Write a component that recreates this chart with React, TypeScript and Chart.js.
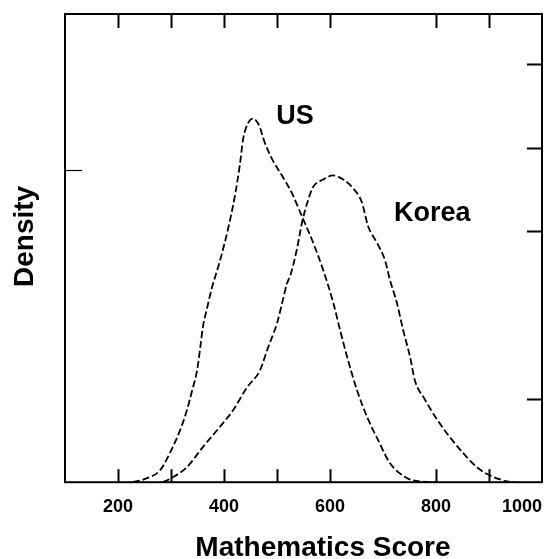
import React, { useEffect, useRef } from "react";
import { Chart, registerables } from "chart.js";

Chart.register(...registerables);

// ---- Data ----
const usScores = [228, 251, 279, 298, 317, 330, 340, 349, 355, 360, 368, 377, 392, 408, 421, 430, 436, 445, 455, 466, 477, 492, 511, 528, 547, 566, 587, 606, 619, 634, 651, 670, 691, 713, 745, 770, 800];
const usDensity = [0, 0.00004, 0.00014, 0.00035, 0.00062, 0.00086, 0.0011, 0.00133, 0.0016, 0.00185, 0.00208, 0.00232, 0.00264, 0.00304, 0.00344, 0.0038, 0.0041, 0.00429, 0.00435, 0.00427, 0.00406, 0.00385, 0.00365, 0.00346, 0.00318, 0.0029, 0.00254, 0.00215, 0.00182, 0.00146, 0.0011, 0.00078, 0.0005, 0.00023, 0.00005, 0.00001, 0];

const koreaScores = [285, 298, 330, 360, 392, 417, 443, 468, 483, 500, 511, 519, 525, 538, 547, 559, 568, 587, 606, 625, 643, 660, 672, 689, 704, 713, 726, 738, 751, 760, 779, 802, 826, 851, 877, 902, 934, 950];
const koreaDensity = [0, 0.00004, 0.00018, 0.00042, 0.00066, 0.00086, 0.00113, 0.00134, 0.00161, 0.0019, 0.00218, 0.00238, 0.00247, 0.0028, 0.0031, 0.00338, 0.00353, 0.00362, 0.00367, 0.00362, 0.00352, 0.00335, 0.00306, 0.00286, 0.00265, 0.00242, 0.00215, 0.00182, 0.0015, 0.00122, 0.00099, 0.00075, 0.00054, 0.00035, 0.00018, 0.00008, 0.00001, 0];

const xMin = 100;
const xMax = 1000;
const xStep = 100;
const xLabelValues = [200, 400, 600, 800, 1000];
const xTickMarks = [200, 300, 400, 500, 600, 800, 900];
const yMin = 0;
const yMax = 0.0056;
const yTickMarksRight = [0.001, 0.003, 0.004, 0.005];
const yTickMarksLeft = [0.00374];

const seriesNames = ["US", "Korea"];
const labelScores = [534, 793];
const labelDensities = [0.00437, 0.00321];

const xTitle = "Mathematics Score";
const yTitle = "Density";

const FONT = '"Liberation Sans", Arial, Helvetica, sans-serif';

const framePlugin = {
  id: "frameAndLabels",
  afterDatasetsDraw(chart: any) {
    const { ctx, chartArea: a, scales } = chart;
    const x = scales.x;
    const y = scales.y;
    ctx.save();
    ctx.setLineDash([]);
    ctx.strokeStyle = "#000";
    ctx.lineWidth = 2;
    ctx.strokeRect(a.left, a.top, a.right - a.left, a.bottom - a.top);
    ctx.beginPath();
    for (const v of xTickMarks) {
      const px = Math.round(x.getPixelForValue(v)) + 0.5;
      ctx.moveTo(px, a.bottom);
      ctx.lineTo(px, a.bottom - 13);
      ctx.moveTo(px, a.top);
      ctx.lineTo(px, a.top + 14);
    }
    for (const v of yTickMarksRight) {
      const py = Math.round(y.getPixelForValue(v)) + 0.5;
      ctx.moveTo(a.right, py);
      ctx.lineTo(a.right - 15, py);
    }
    ctx.stroke();
    ctx.lineWidth = 1.2;
    ctx.beginPath();
    for (const v of yTickMarksLeft) {
      const py = Math.round(y.getPixelForValue(v)) + 0.5;
      ctx.moveTo(a.left, py);
      ctx.lineTo(a.left + 17, py);
    }
    ctx.stroke();

    ctx.fillStyle = "#000";
    ctx.font = `bold 27px ${FONT}`;
    ctx.textAlign = "center";
    ctx.textBaseline = "middle";
    seriesNames.forEach((t, i) => {
      ctx.fillText(t, x.getPixelForValue(labelScores[i]), y.getPixelForValue(labelDensities[i]));
    });
    ctx.restore();
  },
};

export default function App() {
  const canvasRef = useRef<HTMLCanvasElement | null>(null);

  useEffect(() => {
    if (!canvasRef.current) return;
    const lineStyle = {
      borderColor: "#000",
      borderWidth: 1.8,
      borderDash: [7, 3],
      pointRadius: 0,
      fill: false,
      cubicInterpolationMode: "monotone",
    };
    const chart = new Chart(canvasRef.current, {
      type: "line",
      data: {
        datasets: [
          {
            label: seriesNames[0],
            data: usScores.map((s, i) => ({ x: s, y: usDensity[i] })),
            ...lineStyle,
          },
          {
            label: seriesNames[1],
            data: koreaScores.map((s, i) => ({ x: s, y: koreaDensity[i] })),
            ...lineStyle,
          },
        ],
      },
      options: {
        responsive: false,
        animation: false,
        layout: { padding: { top: 14, right: 6, left: 0, bottom: 0 } },
        plugins: { legend: { display: false }, tooltip: { enabled: false } },
        scales: {
          x: {
            type: "linear",
            min: xMin,
            max: xMax,
            grid: { display: false, drawTicks: false },
            border: { display: false },
            ticks: {
              stepSize: xStep,
              autoSkip: false,
              align: "inner",
              padding: 6,
              maxRotation: 0,
              color: "#000",
              font: { family: FONT, size: 18, weight: "bold", lineHeight: 2.133 },
              callback: (v: any) => (xLabelValues.includes(Number(v)) ? String(v) : ""),
            },
            title: {
              display: true,
              text: "     " + xTitle,
              color: "#000",
              font: { family: FONT, size: 28, weight: "bold", lineHeight: 0.8 },
              padding: { top: 4, bottom: 0 },
            },
          },
          y: {
            type: "linear",
            min: yMin,
            max: yMax,
            grid: { display: false, drawTicks: false },
            border: { display: false },
            ticks: { display: false },
            title: {
              display: true,
              text: "   " + yTitle,
              color: "#000",
              font: { family: FONT, size: 28, weight: "bold", lineHeight: 1 },
              padding: { top: 11, bottom: 26 },
            },
          },
        },
      },
      plugins: [framePlugin],
    } as any);
    return () => chart.destroy();
  }, []);

  return (
    <div style={{ position: "fixed", left: 0, top: 0, width: 548, height: 559, background: "#fff" }}>
      <canvas ref={canvasRef} width={548} height={559} style={{ display: "block", width: 548, height: 559 }} />
    </div>
  );
}
